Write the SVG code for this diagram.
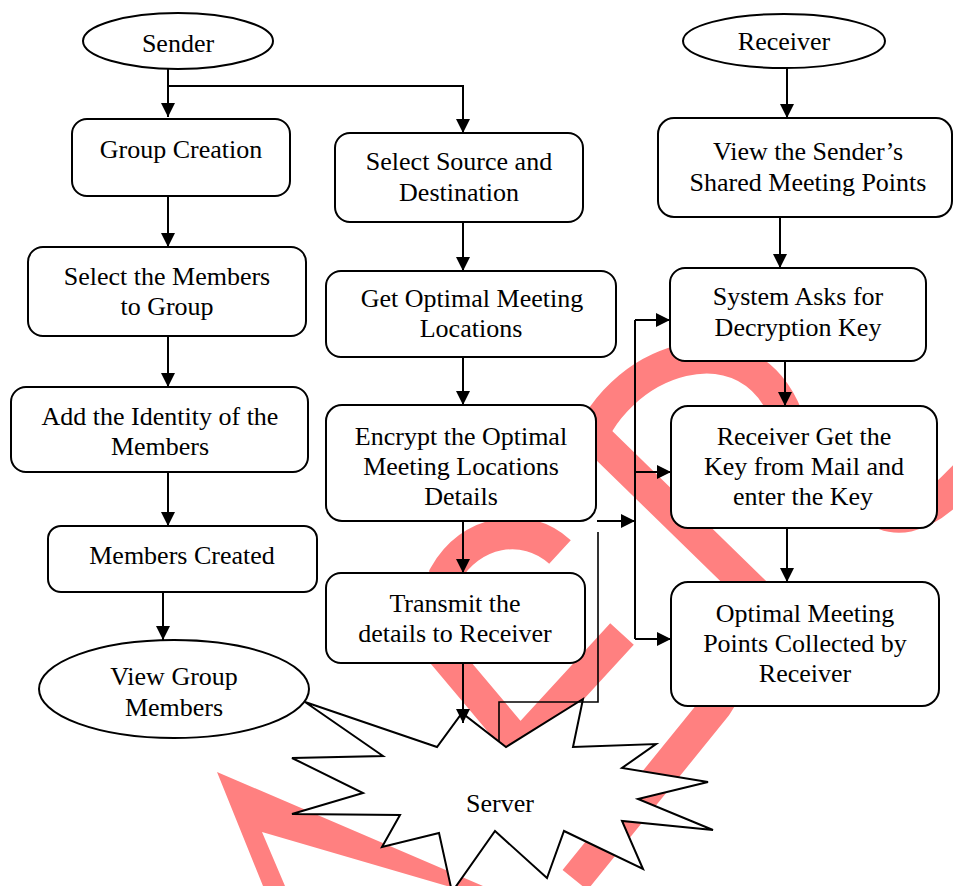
<svg xmlns="http://www.w3.org/2000/svg" width="953" height="886" viewBox="0 0 953 886">
<style>
.box{fill:#fff;stroke:#000;stroke-width:2}
.t{font-family:"Liberation Serif","Times New Roman",serif;font-size:26px;text-anchor:middle;fill:#000}
.c{fill:none;stroke:#000;stroke-width:2}
.thin{fill:none;stroke:#000;stroke-width:1.6}
</style>
<defs>
<marker id="ah" markerUnits="userSpaceOnUse" markerWidth="15" markerHeight="14" refX="14" refY="7" orient="auto">
<path d="M0,0 L14,7 L0,14 z" fill="#000"/>
</marker>
</defs>
<rect width="953" height="886" fill="#fff"/>
<g id="watermark" fill="none" stroke="#ff8080" stroke-width="32">
<polygon fill="#ff8080" stroke="none" points="217,772 483,886 447,886 262,832 285,886 263,886"/>
<path d="M560 552 C525 520 470 530 445 575 L440 650 L520 745 L622 634"/>
<path d="M585 455 C610 360 752 308 790 425 L870 505 Q905 535 953 488 L965 476"/>
<path d="M578 420 L775 612 L716 706 L575 880"/>
</g>
<g id="sender"><ellipse class="box" cx="178" cy="41" rx="95" ry="28"/><text class="t" x="178" y="52">Sender</text></g>
<g id="receiver"><ellipse class="box" cx="784" cy="41" rx="101" ry="27"/><text class="t" x="784" y="50">Receiver</text></g>
<g id="group-creation"><rect class="box" x="72" y="119" width="218" height="77" rx="15"/><text class="t" x="181" y="158">Group Creation</text></g>
<g id="select-members"><rect class="box" x="28" y="247" width="278" height="89" rx="15"/><text class="t" x="167" y="285">Select the Members</text><text class="t" x="167" y="315">to Group</text></g>
<g id="add-identity"><rect class="box" x="11" y="387" width="297" height="85" rx="15"/><text class="t" x="160" y="425">Add the Identity of the</text><text class="t" x="160" y="455">Members</text></g>
<g id="members-created"><rect class="box" x="48" y="526" width="269" height="66" rx="13"/><text class="t" x="182" y="564">Members Created</text></g>
<g id="view-group"><ellipse class="box" cx="174" cy="689" rx="135" ry="49"/><text class="t" x="174" y="685">View Group</text><text class="t" x="174" y="716">Members</text></g>
<g id="select-source"><rect class="box" x="335" y="133" width="248" height="89" rx="15"/><text class="t" x="459" y="170">Select Source and</text><text class="t" x="459" y="201">Destination</text></g>
<g id="get-optimal"><rect class="box" x="326" y="271" width="290" height="86" rx="15"/><text class="t" x="472" y="307">Get Optimal Meeting</text><text class="t" x="471" y="337">Locations</text></g>
<g id="encrypt"><rect class="box" x="326" y="405" width="270" height="116" rx="16"/><text class="t" x="461" y="445">Encrypt the Optimal</text><text class="t" x="461" y="475">Meeting Locations</text><text class="t" x="461" y="505">Details</text></g>
<g id="transmit"><rect class="box" x="326" y="573" width="259" height="90" rx="15"/><text class="t" x="455" y="612">Transmit the</text><text class="t" x="455" y="642">details to Receiver</text></g>
<g id="server"><polygon class="box" points="305,702 437,747 462,713 506,747 583,699 573,747 656,744 622,768 708,782 638,799 713,830 622,821 643,869 564,831 547,878 495,831 452,892 439,833 382,847 400,815 292,814 363,793 292,758 383,756"/><text class="t" x="500" y="812">Server</text></g>
<g id="view-sender"><rect class="box" x="658" y="118" width="294" height="99" rx="16"/><text class="t" x="808" y="160">View the Sender’s</text><text class="t" x="808" y="191">Shared Meeting Points</text></g>
<g id="system-asks"><rect class="box" x="670" y="268" width="256" height="93" rx="15"/><text class="t" x="798" y="305">System Asks for</text><text class="t" x="798" y="336">Decryption Key</text></g>
<g id="receiver-get"><rect class="box" x="671" y="406" width="266" height="122" rx="17"/><text class="t" x="804" y="445">Receiver Get the</text><text class="t" x="804" y="475">Key from Mail and</text><text class="t" x="803" y="505">enter the Key</text></g>
<g id="optimal-collected"><rect class="box" x="671" y="582" width="268" height="124" rx="17"/><text class="t" x="805" y="622">Optimal Meeting</text><text class="t" x="805" y="652">Points Collected by</text><text class="t" x="805" y="682">Receiver</text></g>
<g id="connectors">
<path class="c" d="M168,69 V117" marker-end="url(#ah)"/>
<path class="c" d="M168,86 H463 V133" marker-end="url(#ah)"/>
<path class="c" d="M168,196 V247" marker-end="url(#ah)"/>
<path class="c" d="M168,336 V387" marker-end="url(#ah)"/>
<path class="c" d="M168,472 V526" marker-end="url(#ah)"/>
<path class="c" d="M163,592 V640" marker-end="url(#ah)"/>
<path class="c" d="M463,222 V271" marker-end="url(#ah)"/>
<path class="c" d="M463,357 V405" marker-end="url(#ah)"/>
<path class="c" d="M463,521 V573" marker-end="url(#ah)"/>
<path class="c" d="M463,663 V723" marker-end="url(#ah)"/>
<path class="c" d="M787,68 V118" marker-end="url(#ah)"/>
<path class="c" d="M780,217 V268" marker-end="url(#ah)"/>
<path class="c" d="M785,361 V406" marker-end="url(#ah)"/>
<path class="c" d="M787,528 V582" marker-end="url(#ah)"/>
<path class="c" d="M597,521 H635" marker-end="url(#ah)"/>
<path class="c" d="M635,320 V639"/>
<path class="c" d="M635,320 H670" marker-end="url(#ah)"/>
<path class="c" d="M635,472 H671" marker-end="url(#ah)"/>
<path class="c" d="M635,639 H671" marker-end="url(#ah)"/>
<path class="thin" d="M499,742 V702 H598 V532"/>
</g>
</svg>
